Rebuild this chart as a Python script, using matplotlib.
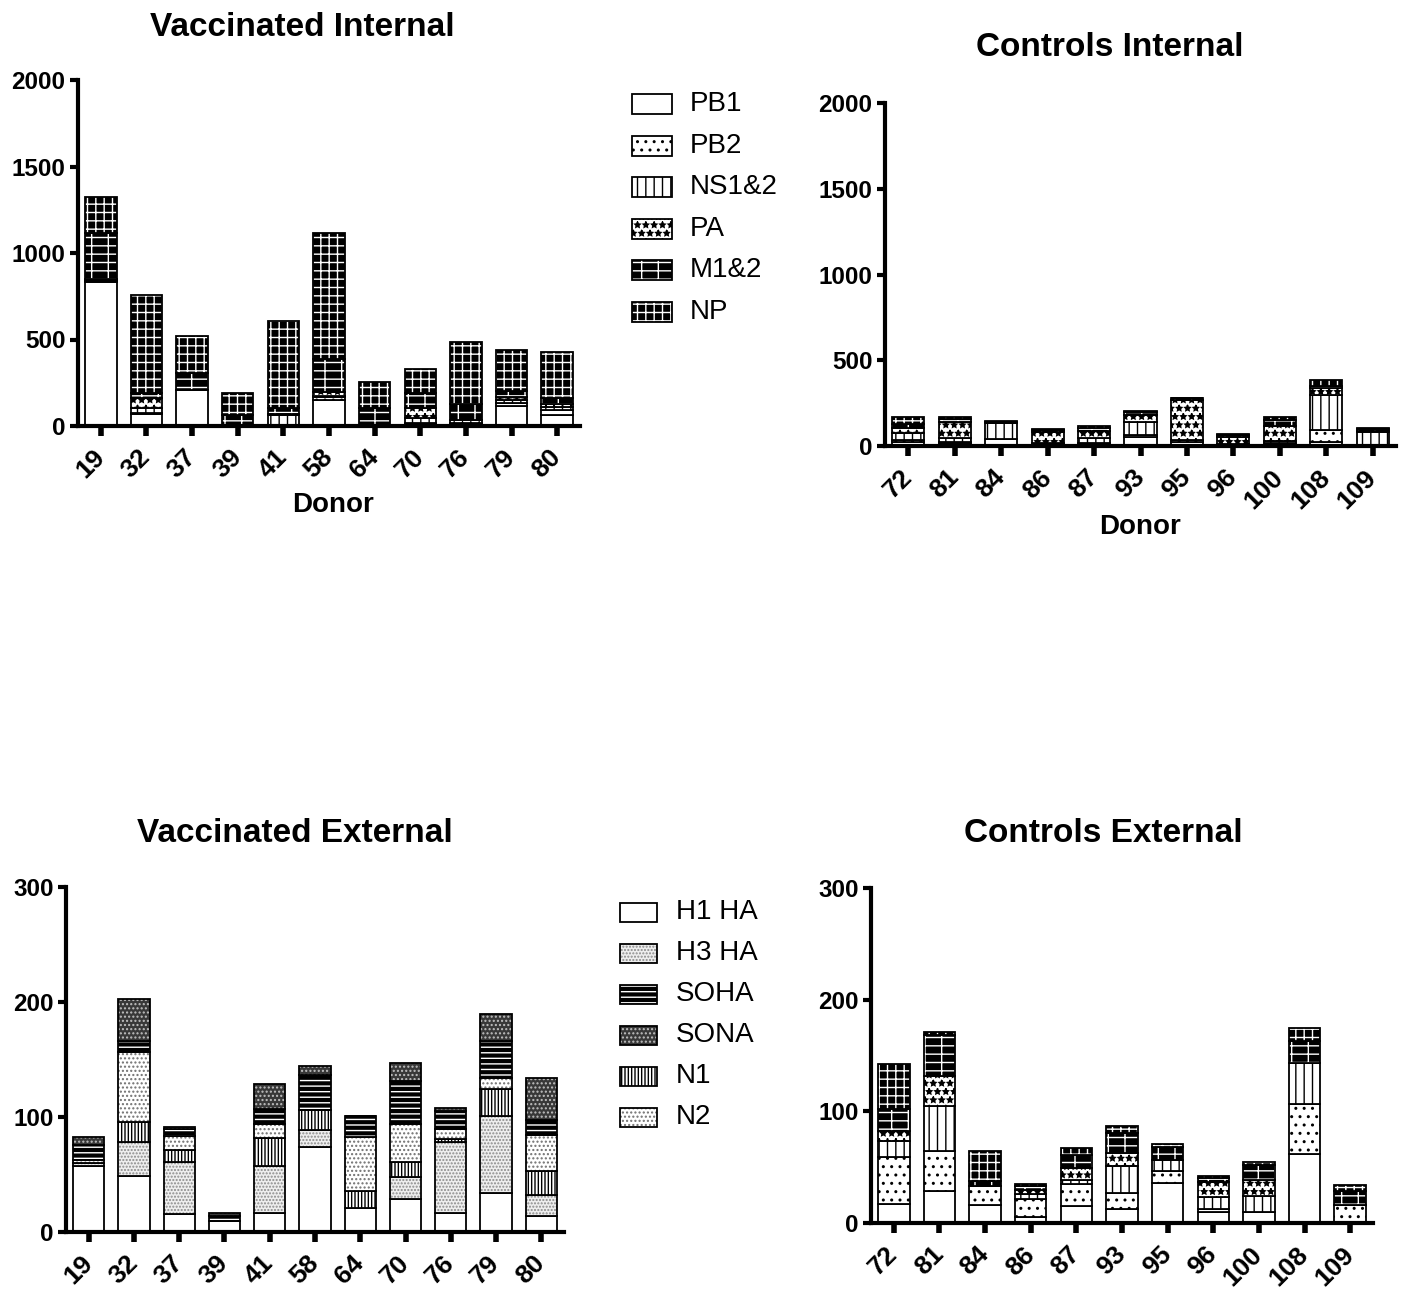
import numpy as np
import matplotlib.pyplot as plt
from matplotlib.patches import Rectangle

plt.rcParams['font.family'] = ['Liberation Sans', 'DejaVu Sans']
plt.rcParams['hatch.linewidth'] = 1.0

W, H = 1418, 1290

vacc_donors = ['19', '32', '37', '39', '41', '58', '64', '70', '76', '79', '80']
ctrl_donors = ['72', '81', '84', '86', '87', '93', '95', '96', '100', '108', '109']

internal_names = ['PB1', 'PB2', 'NS1&2', 'PA', 'M1&2', 'NP']
external_stack = ['H1 HA', 'H3 HA', 'N1', 'N2', 'SOHA', 'SONA']
external_legend = ['H1 HA', 'H3 HA', 'SOHA', 'SONA', 'N1', 'N2']

# vaccinated, internal genes
vi_pb1 = [833, 69, 208, 2, 5, 150, 2, 10, 5, 115, 65]
vi_pb2 = [6, 8, 0, 0, 0, 15, 0, 10, 5, 18, 30]
vi_ns = [6, 25, 0, 0, 58, 10, 0, 24, 10, 16, 12]
vi_pa = [7, 58, 0, 0, 9, 19, 0, 58, 15, 20, 20]
vi_m = [265, 32, 96, 61, 30, 193, 100, 90, 92, 35, 33]
vi_np = [206, 564, 217, 129, 506, 728, 154, 135, 360, 234, 269]

# controls, internal genes
ci_pb1 = [25, 19, 41, 5, 16, 54, 25, 5, 8, 25, 5]
ci_pb2 = [10, 5, 0, 5, 0, 10, 10, 5, 10, 70, 0]
ci_ns = [40, 20, 95, 5, 29, 77, 0, 0, 10, 205, 78]
ci_pa = [28, 97, 0, 68, 45, 39, 236, 45, 90, 40, 5]
ci_m = [25, 14, 6, 10, 13, 19, 6, 8, 35, 10, 10]
ci_np = [39, 15, 3, 6, 11, 6, 0, 5, 17, 37, 5]

# vaccinated, external genes
ve_h1 = [57.3, 48.6, 15.4, 9.6, 16.6, 73.6, 21.3, 29.1, 16.6, 33.5, 14.0]
ve_h3 = [3.0, 30.0, 45.7, 0, 41.0, 15.2, 0, 18.3, 62.0, 67.8, 18.6]
ve_n1 = [0, 17.4, 10.2, 0, 23.9, 17.5, 14.5, 13.7, 2.0, 23.0, 20.7]
ve_n2 = [2.0, 60.3, 12.2, 0, 12.5, 0, 47.2, 32.9, 8.8, 9.6, 31.1]
ve_soha = [13.4, 9.7, 6.0, 4.0, 12.8, 30.5, 18.3, 37.0, 15.4, 32.0, 13.1]
ve_sona = [6.7, 36.3, 2.2, 3.0, 22.2, 7.9, 0, 16.0, 2.9, 23.9, 36.4]

# controls, external genes
ce_h1 = [17.0, 28.4, 16.4, 5.4, 14.9, 12.5, 35.8, 9.6, 9.6, 62.1, 0]
ce_h3 = [41.8, 35.8, 16.4, 16.1, 20.3, 14.4, 11.1, 3.0, 0, 44.8, 15.8]
ce_n1 = [14.3, 40.3, 0, 4.8, 3.6, 24.4, 9.2, 10.5, 14.3, 36.4, 0]
ce_n2 = [9.0, 27.5, 0, 3.6, 10.5, 11.4, 0, 13.4, 14.9, 0, 0]
ce_soha = [20.0, 36.7, 4.5, 3.0, 11.9, 17.9, 12.0, 3.9, 13.4, 19.4, 12.6]
ce_sona = [40.3, 2.0, 27.5, 2.0, 6.0, 6.0, 2.6, 2.0, 2.4, 11.9, 5.9]

# (face, hatch colour, hatch)
int_styles = [('white', 'black', ''), ('white', 'black', '..'),
              ('white', 'black', '||'), ('white', 'black', '**'),
              ('black', 'white', '--|'), ('black', 'white', '++')]
ext_styles = {'H1 HA': ('white', 'black', ''),
              'H3 HA': ('#eeeeee', '#8a8a8a', '.....'),
              'N1': ('white', 'black', '|||||'),
              'N2': ('white', '#707070', '....'),
              'SOHA': ('black', 'white', '---'),
              'SONA': ('#383838', '#c0c0c0', '....')}


def fig_rect(l, t, r, b):
    return [l / W, 1 - b / H, (r - l) / W, (b - t) / H]


def stacked(ax, donors, series, styles):
    x = np.arange(len(donors))
    bottom = np.zeros(len(donors))
    for vals, (fc, hc, hatch) in zip(series, styles):
        vals = np.array(vals, float)
        ax.bar(x, vals, 0.69, bottom=bottom, color=fc, edgecolor=hc,
               hatch=hatch, linewidth=0)
        ax.bar(x, vals, 0.69, bottom=bottom, fill=False, edgecolor='black',
               linewidth=1.3)
        bottom += vals
    ax.set_xticks(x)
    ax.set_xticklabels(donors, rotation=45, ha='right', va='center',
                       rotation_mode='anchor', fontweight='bold')


def style_axes(ax, ymax, yticks):
    ax.set_xlim(-0.5, 10.5)
    ax.set_ylim(0, ymax)
    ax.set_yticks(yticks)
    for s in ['top', 'right']:
        ax.spines[s].set_visible(False)
    for s in ['left', 'bottom']:
        ax.spines[s].set_linewidth(3)
    ax.tick_params(axis='y', length=6, width=3, labelsize=17.5, pad=3)
    ax.tick_params(axis='x', length=7, width=4, labelsize=19, pad=13)
    for lab in ax.get_yticklabels():
        lab.set_fontweight('bold')


def legend(names, styles, x0, yc0, w, h, step, tx):
    for i, (name, (fc, hc, hatch)) in enumerate(zip(names, styles)):
        yc = yc0 + i * step
        r = fig_rect(x0, yc - h / 2, x0 + w, yc + h / 2)
        fig.add_artist(Rectangle((r[0], r[1]), r[2], r[3], transform=fig.transFigure,
                                 facecolor=fc, edgecolor=hc, hatch=hatch, lw=0))
        fig.add_artist(Rectangle((r[0], r[1]), r[2], r[3], transform=fig.transFigure,
                                 fill=False, edgecolor='black', lw=1.3))
        fig.text(tx / W, 1 - yc / H, name, fontsize=20, ha='left', va='center')


def title(txt, x, y, size=24):
    fig.text(x / W, 1 - y / H, txt, fontsize=size, fontweight='bold',
             ha='center', va='center')


fig = plt.figure(figsize=(W / 100, H / 100), dpi=100)

ax1 = fig.add_axes(fig_rect(78, 80, 580, 426))
stacked(ax1, vacc_donors, [vi_pb1, vi_pb2, vi_ns, vi_pa, vi_m, vi_np], int_styles)
style_axes(ax1, 2000, [0, 500, 1000, 1500, 2000])

ax2 = fig.add_axes(fig_rect(885, 103, 1396, 446))
stacked(ax2, ctrl_donors, [ci_pb1, ci_pb2, ci_ns, ci_pa, ci_m, ci_np], int_styles)
style_axes(ax2, 2000, [0, 500, 1000, 1500, 2000])

ext_stack_styles = [ext_styles[n] for n in external_stack]
ax3 = fig.add_axes(fig_rect(66, 887, 564, 1232))
stacked(ax3, vacc_donors, [ve_h1, ve_h3, ve_n1, ve_n2, ve_soha, ve_sona], ext_stack_styles)
style_axes(ax3, 300, [0, 100, 200, 300])

ax4 = fig.add_axes(fig_rect(871, 888, 1373, 1223))
stacked(ax4, ctrl_donors, [ce_h1, ce_h3, ce_n1, ce_n2, ce_soha, ce_sona], int_styles)
style_axes(ax4, 300, [0, 100, 200, 300])

title('Vaccinated Internal', 302, 27)
title('Controls Internal', 1110, 48)
title('Vaccinated External', 295, 833)
title('Controls External', 1103, 833)
title('Donor', 333, 505, 20)
title('Donor', 1140, 527, 20)

legend(internal_names, int_styles, 632, 104, 40, 20, 41.6, 690)
legend(external_legend, [ext_styles[n] for n in external_legend], 620, 912, 37, 19, 41, 676)

fig.savefig('out.png', dpi=100)
